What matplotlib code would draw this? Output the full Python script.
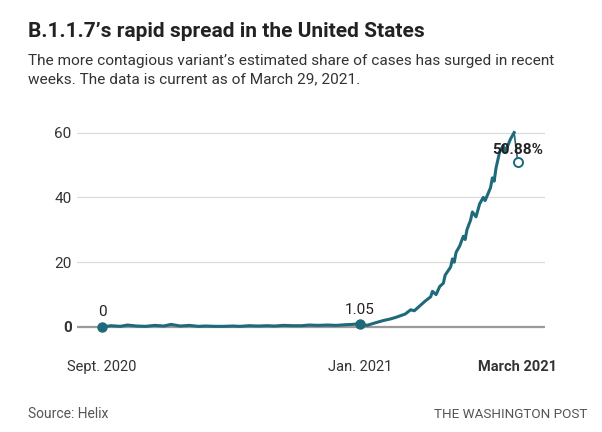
import matplotlib
matplotlib.use("Agg")
import matplotlib.pyplot as plt
import pandas as pd

# Дни относительно 1 января 2021 и доля варианта B.1.1.7 (%)
START = pd.Timestamp("2021-01-01")
days = [-142, -137, -132, -128, -123, -118, -113, -108, -104, -99, -94, -89,
        -85, -80, -75, -70, -66, -61, -56, -51, -47, -42, -37, -32, -28, -23,
        -18, -13, -8, -4, 0,
        4, 8, 13, 17, 20, 25, 28, 30, 33, 36, 39, 40, 42, 44, 46, 47, 50, 51,
        52, 53, 55, 57, 58, 59, 61, 62, 64, 66, 68, 69, 72, 73, 74, 75, 77,
        79, 80, 83, 85, 87]
share = [0, 0.4, 0.2, 0.6, 0.3, 0.2, 0.5, 0.3, 0.8, 0.3, 0.5, 0.2,
         0.3, 0.2, 0.2, 0.3, 0.2, 0.4, 0.3, 0.4, 0.3, 0.5, 0.4, 0.4, 0.6, 0.5,
         0.6, 0.5, 0.7, 0.8, 1.05,
         0.5, 1.2, 2.0, 2.5, 3.0, 4.0, 5.3, 5.0, 6.5, 8.0, 9.3, 11.0, 10.0,
         12.5, 13.5, 16.0, 18.5, 21.0, 20.0, 23.0, 25.0, 28.0, 27.0, 30.0,
         33.0, 35.5, 34.0, 38.0, 40.0, 39.0, 43.0, 46.0, 45.0, 49.0, 54.0,
         56.0, 54.0, 58.0, 60.0, 50.88]

y_ticks = [0, 20, 40, 60]
x_tick_days = [-142, 0, 87]
x_tick_labels = ["Sept. 2020", "Jan. 2021", "March 2021"]

LINE = "#1e6a7b"
FONT = "Roboto"


def main():
    dates = [START + pd.Timedelta(days=d) for d in days]
    tick_dates = [START + pd.Timedelta(days=d) for d in x_tick_days]

    fig = plt.figure(figsize=(6.02, 4.32), dpi=100)
    ax = fig.add_axes([0.128, 0.2206, 0.777, 0.495])

    # Сетка и нулевая линия
    for y in y_ticks[1:]:
        ax.axhline(y, color="#dcdcdc", linewidth=0.9, zorder=1)
    ax.axhline(0, color="#9a9a9a", linewidth=1.6, zorder=1)

    ax.plot(dates[:-1], share[:-1], color=LINE, linewidth=2.2, zorder=3,
            solid_joinstyle="round")
    ax.plot(dates[-2:], share[-2:], color=LINE, linewidth=1.2, zorder=3)

    # Отмеченные точки
    ax.plot(dates[0], share[0], "o", color=LINE, markersize=6.5, zorder=4,
            clip_on=False)
    i_jan = days.index(0)
    ax.plot(dates[i_jan], share[i_jan], "o", color=LINE, markersize=6.5,
            zorder=4)
    ax.plot(dates[-1], share[-1], "o", markerfacecolor="white",
            markeredgecolor=LINE, markeredgewidth=1.4, markersize=6.5, zorder=4)

    ax.annotate("0", (dates[0], share[0]), xytext=(0, 5.5),
                textcoords="offset points", ha="center", va="bottom",
                fontsize=11, family=FONT, color="#222222")
    ax.annotate("1.05", (dates[i_jan], share[i_jan]), xytext=(0, 5),
                textcoords="offset points", ha="center", va="bottom",
                fontsize=11, family=FONT, color="#222222")
    ax.annotate("50.88%", (dates[-1], share[-1]), xytext=(0, 4),
                textcoords="offset points", ha="center", va="bottom",
                fontsize=11, family=FONT, weight="bold", color="#222222",
                zorder=5)

    ax.set_xlim(dates[0] - pd.Timedelta(days=13.8),
                dates[-1] + pd.Timedelta(days=14.9))
    ax.set_ylim(-3, 63)

    ax.set_yticks(y_ticks)
    ax.set_yticklabels([str(v) for v in y_ticks], family=FONT, fontsize=11,
                       color="#333333")
    ax.get_yticklabels()[0].set_fontweight("bold")
    ax.set_xticks(tick_dates)
    ax.set_xticklabels(x_tick_labels, family=FONT, fontsize=10.5,
                       color="#333333")
    ax.get_xticklabels()[-1].set_fontweight("bold")
    ax.tick_params(axis="both", length=0)
    ax.tick_params(axis="y", pad=4)
    ax.tick_params(axis="x", pad=16.5)

    for side in ["left", "right", "top", "bottom"]:
        ax.spines[side].set_visible(False)

    # Заголовки и подписи
    fig.text(0.047, 0.914, "B.1.1.7’s rapid spread in the United States",
             family=FONT, weight="bold", fontsize=15, color="#222222",
             va="baseline")
    fig.text(0.047, 0.850,
             "The more contagious variant’s estimated share of cases has surged in recent",
             family=FONT, fontsize=11.1, color="#333333", va="baseline")
    fig.text(0.047, 0.808, "weeks. The data is current as of March 29, 2021.",
             family=FONT, fontsize=11.1, color="#333333", va="baseline")
    fig.text(0.047, 0.033, "Source: Helix", family=FONT, fontsize=10,
             color="#555555", va="baseline")
    fig.text(0.975, 0.033, "THE WASHINGTON POST", family=FONT, fontsize=9.7,
             color="#555555", va="baseline", ha="right")

    fig.savefig("out.png", dpi=100)


if __name__ == "__main__":
    main()
